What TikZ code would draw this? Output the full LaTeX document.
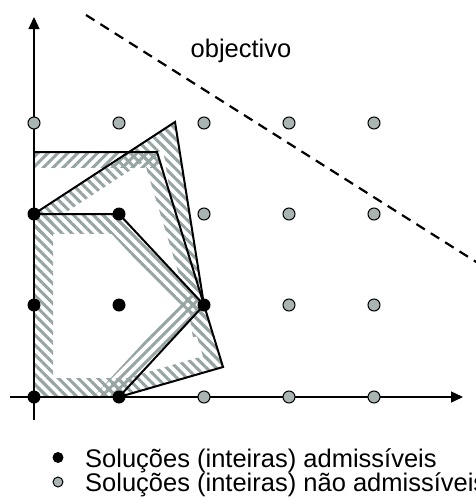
\documentclass[tikz,border=0pt]{standalone}
\usepackage{fontspec}
\setmainfont{Liberation Sans}
\usetikzlibrary{calc,patterns.meta,arrows.meta}
\definecolor{hatchgray}{RGB}{150,165,163}
\definecolor{dotgray}{RGB}{168,181,179}
\tikzset{
  hatchL/.style={pattern={Lines[angle=-45,distance=7pt,line width=3pt]},pattern color=hatchgray},
  hatchR/.style={pattern={Lines[angle=45,distance=7pt,line width=3pt]},pattern color=hatchgray},
  polyline/.style={line width=2pt,line join=miter},
  axisline/.style={line width=1.4pt,-{Triangle[length=12pt,width=11pt]}},
  feas/.style={circle,fill=black,inner sep=0pt,minimum size=13pt},
  infeas/.style={circle,fill=dotgray,draw=black,line width=1pt,inner sep=0pt,minimum size=12pt},
  objline/.style={line width=2.2pt,dash pattern=on 10pt off 7pt},
  lab/.style={font=\fontsize{25.5}{30}\selectfont,inner sep=0pt}
}
\newcommand\bandedge[4]{%
  \coordinate (q1) at ($(#1)!-30pt!(#2)$);
  \coordinate (q2) at ($(#2)!-30pt!(#1)$);
  \coordinate (q3) at ($(q2)!#3!90:(q1)$);
  \coordinate (q4) at ($(q1)!#3!-90:(q2)$);
  \fill[#4] (q1)--(q2)--(q3)--(q4)--cycle;
}
\begin{document}
\begin{tikzpicture}[x=1pt,y=-1pt]
\useasboundingbox (0,0) rectangle (476,498);
% vertices
\coordinate (O) at (34,397);
\coordinate (h1) at (34,214);
\coordinate (h2) at (119,214);
\coordinate (h3) at (204,305);
\coordinate (h4) at (119,397);
\coordinate (a1) at (34,152);
\coordinate (a2) at (157,152);
\coordinate (b1) at (175,122);
\coordinate (b2) at (223,367);
% hatched bands
\begin{scope}
  \clip (O)--(h1)--(h2)--(h3)--(h4)--cycle;
  \bandedge{O}{h1}{19pt}{hatchL}
  \bandedge{h1}{h2}{19pt}{hatchL}
  \bandedge{h2}{h3}{19pt}{hatchL}
  \bandedge{h3}{h4}{19pt}{hatchR}
  \bandedge{h4}{O}{19pt}{hatchL}
\end{scope}
\begin{scope}
  \clip (O)--(a1)--(a2)--(h3)--(h4)--cycle;
  \bandedge{a1}{a2}{15pt}{hatchR}
  \bandedge{a2}{h3}{15pt}{hatchL}
\end{scope}
\begin{scope}
  \clip (O)--(h1)--(b1)--(h3)--(b2)--(h4)--cycle;
  \bandedge{h1}{b1}{16pt}{hatchL}
  \bandedge{b1}{h3}{16pt}{hatchL}
  \bandedge{h3}{b2}{16pt}{hatchL}
  \bandedge{b2}{h4}{16pt}{hatchL}
\end{scope}
% axes
\coordinate (ybot) at (34,420);
\coordinate (ytop) at (34,17);
\coordinate (xl) at (10,397);
\coordinate (xr) at (463,397);
\draw[axisline] (ybot)--(ytop);
\draw[axisline] (xl)--(xr);
% objective
\coordinate (o1) at (86,15);
\coordinate (o2) at (500,277);
\draw[objline] (o1)--(o2);
\node[lab,anchor=base] (objlab) at (241,57) {objectivo};
% polygon outlines
\draw[polyline] (a1)--(a2)--(h3);
\draw[polyline] (h1)--(b1)--(h3)--(b2)--(h4);
\draw[polyline] (h1)--(h2)--(h3)--(h4);
\draw[polyline] (a1)--(O)--(h4);
% infeasible points
\foreach \x/\y [count=\i] in {34/123,119/123,204/123,289/123,374/123,
  204/214,289/214,374/214,289/305,374/305,204/397,289/397,374/397}
  \node[infeas] (g\i) at (\x,\y) {};
% feasible points
\foreach \x/\y [count=\i] in {34/214,119/214,34/305,119/305,204/305,34/397,119/397}
  \node[feas] (f\i) at (\x,\y) {};
% legend
\node[feas,minimum size=11pt] (lb1) at (58,457.5) {};
\node[infeas,minimum size=10pt] (lb2) at (58,482) {};
\node[lab,anchor=base west] (lt1) at (85,467) {Soluções (inteiras) admissíveis};
\node[lab,anchor=base west] (lt2) at (85,491) {Soluções (inteiras) não admissíveis};
\end{tikzpicture}
\end{document}
